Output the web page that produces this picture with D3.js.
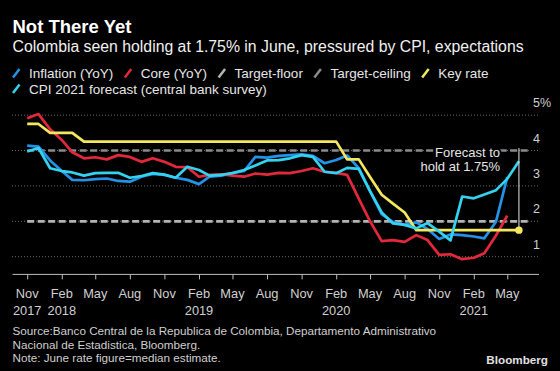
<!DOCTYPE html>
<html><head><meta charset="utf-8">
<script src="https://cdn.jsdelivr.net/npm/d3@7"></script>
<style>
html,body{margin:0;padding:0;background:#000;}
svg{display:block;}
text{font-family:"Liberation Sans", Arial, Helvetica, sans-serif;}
</style></head><body>
<svg id="chart" width="560" height="371"></svg>
<script>
// ---------------- DATA ----------------
const months = ["2017-11","2017-12","2018-01","2018-02","2018-03","2018-04","2018-05","2018-06","2018-07","2018-08","2018-09","2018-10","2018-11","2018-12","2019-01","2019-02","2019-03","2019-04","2019-05","2019-06","2019-07","2019-08","2019-09","2019-10","2019-11","2019-12","2020-01","2020-02","2020-03","2020-04","2020-05","2020-06","2020-07","2020-08","2020-09","2020-10","2020-11","2020-12","2021-01","2021-02","2021-03","2021-04","2021-05","2021-06"];
const inflation = [4.14,4.11,3.72,3.42,3.17,3.16,3.19,3.21,3.14,3.12,3.26,3.34,3.31,3.23,3.17,3.05,3.26,3.29,3.36,3.42,3.82,3.80,3.85,3.87,3.89,3.85,3.64,3.73,3.86,3.50,2.85,2.20,1.98,1.90,1.97,1.78,1.50,1.63,1.61,1.57,1.52,1.99,3.25,null];
const core = [4.91,5.03,4.60,4.30,3.95,3.78,3.81,3.75,3.87,3.82,3.68,3.78,3.68,3.54,3.53,3.26,3.31,3.33,3.29,3.26,3.35,3.32,3.37,3.36,3.42,3.50,3.40,3.37,3.31,2.64,2.00,1.44,1.47,1.42,1.61,1.47,1.05,1.07,0.93,0.97,1.10,1.60,2.16,null];
const keyRate = [4.75,4.75,4.5,4.5,4.5,4.25,4.25,4.25,4.25,4.25,4.25,4.25,4.25,4.25,4.25,4.25,4.25,4.25,4.25,4.25,4.25,4.25,4.25,4.25,4.25,4.25,4.25,4.25,3.75,3.75,3.25,2.75,2.5,2.25,1.75,1.75,1.75,1.75,1.75,1.75,1.75,1.75,1.75,1.75];
const cpiForecast = [3.97,4.07,3.50,3.42,3.38,3.29,3.36,3.37,3.37,3.23,3.28,3.36,3.32,3.23,3.54,3.45,3.29,3.31,3.36,3.45,3.58,3.72,3.73,3.78,3.87,3.82,3.40,3.36,3.51,3.48,2.85,2.25,1.94,1.90,1.80,1.95,1.71,1.46,2.70,2.65,2.76,2.88,3.20,3.70];
const targetMonths = ["2017-11","2021-07"];
const targetFloor = [2,2];
const targetCeiling = [4,4];
const yTicks = [1,2,3,4,5];
const yTickLabels = ["1","2","3","4","5%"];
const xTickMonths = ["2017-11","2018-02","2018-05","2018-08","2018-11","2019-02","2019-05","2019-08","2019-11","2020-02","2020-05","2020-08","2020-11","2021-02","2021-05"];
const xTickLabels = ["Nov","Feb","May","Aug","Nov","Feb","May","Aug","Nov","Feb","May","Aug","Nov","Feb","May"];
const xTickYears = ["2017","2018","","","","2019","","","","2020","","","","2021",""];
const legendLabels = ["Inflation (YoY)","Core (YoY)","Target-floor","Target-ceiling","Key rate","CPI 2021 forecast (central bank survey)"];
const annotationMonth = "2021-06";
const annotationTop = 4.07;
const annotationValue = 1.75;
const annotationText = ["Forecast to","hold at 1.75%"];

// ---------------- STYLE ----------------
const C = {blue:"#2492e6", red:"#e3283c", floor:"#b4b4b4", ceil:"#8a8a8a", yellow:"#f3e760", cyan:"#33d3ef"};
const legendColors = [C.blue, C.red, C.floor, C.ceil, C.yellow, C.cyan];
const LW = 2.7;

const parse = d3.utcParse("%Y-%m");
const svg = d3.select("#chart");
svg.append("rect").attr("width",560).attr("height",371).attr("fill","#000");

const x = d3.scaleUtc().domain([parse("2017-11"), parse("2021-07")]).range([27.2, 530.2]);
const y = d3.scaleLinear().domain([0.5, 5.3]).range([274.4, 104.5]);

// Titles
svg.append("text").attr("x",12.5).attr("y",33).attr("fill","#fff")
  .attr("font-size","18.5px").attr("font-weight","bold").text("Not There Yet");
svg.append("text").attr("x",12.5).attr("y",52).attr("fill","#f0f0f0")
  .attr("font-size","15.8px").text("Colombia seen holding at 1.75% in June, pressured by CPI, expectations");

// Legend
const lg = svg.append("g").attr("font-size","13.5px").attr("fill","#e6e6e6");
let lx = 13, ly = 78;
legendLabels.forEach((lab,i)=>{
  if (i===5){ lx = 13; ly = 93.5; }
  const g = lg.append("g");
  g.append("line").attr("x1",lx).attr("y1",ly-0.5).attr("x2",lx+6.5).attr("y2",ly-9)
    .attr("stroke",legendColors[i]).attr("stroke-width",2.5);
  const t = g.append("text").attr("x",lx+16).attr("y",ly).attr("fill","#e6e6e6").text(lab);
  lx = lx + 16 + t.node().getComputedTextLength() + 11.5;
});

// Gridlines
const grid = svg.append("g");
yTicks.forEach(v=>{
  grid.append("line").attr("x1",12).attr("x2",538).attr("y1",y(v)).attr("y2",y(v))
    .attr("stroke","#6a6a6a").attr("stroke-width",1).attr("stroke-dasharray","1,2");
});
// Y labels
const yl = svg.append("g").attr("font-size","12.5px").attr("fill","#d0d0d0");
yTicks.forEach((v,i)=>{
  yl.append("text").attr("x",533).attr("y",y(v)-8).text(yTickLabels[i]);
});

// X axis
const xAxis = d3.axisBottom(x).tickValues(xTickMonths.map(parse)).tickSize(5).tickFormat("");
const ax = svg.append("g").attr("transform",`translate(0,${y(0.5)})`).call(xAxis);
ax.select(".domain").remove();
ax.selectAll(".tick line").attr("stroke","#bdbdbd");
ax.append("line").attr("x1",12.5).attr("x2",539).attr("y1",0).attr("y2",0).attr("stroke","#bdbdbd");
const xl = svg.append("g").attr("font-size","12.8px").attr("fill","#d0d0d0").attr("text-anchor","middle");
xTickMonths.forEach((m,i)=>{
  xl.append("text").attr("x",x(parse(m))).attr("y",298).text(xTickLabels[i]);
  if (xTickYears[i]) xl.append("text").attr("x",x(parse(m))).attr("y",315).text(xTickYears[i]);
});

// Series
function pts(ms, vals){ return ms.map((m,i)=>({d:parse(m), v:vals[i]})).filter(p=>p.v!=null); }
const line = d3.line().x(p=>x(p.d)).y(p=>y(p.v));
const plot = svg.append("g").attr("fill","none");
plot.append("path").attr("d",line(pts(targetMonths,targetFloor))).attr("stroke",C.floor)
  .attr("stroke-width",LW).attr("stroke-dasharray","7,3.5");
plot.append("path").attr("d",line(pts(targetMonths,targetCeiling))).attr("stroke",C.ceil)
  .attr("stroke-width",LW).attr("stroke-dasharray","7,3.5");

// annotation vertical line (behind series)
const ax0 = x(parse(annotationMonth));
svg.append("line").attr("x1",ax0).attr("x2",ax0).attr("y1",y(annotationTop)).attr("y2",y(annotationValue))
  .attr("stroke","#e8e8e8").attr("stroke-width",1);

[[inflation,C.blue],[core,C.red],[keyRate,C.yellow],[cpiForecast,C.cyan]].forEach(([vals,col])=>{
  plot.append("path").attr("d",line(pts(months,vals))).attr("stroke",col)
    .attr("stroke-width",LW).attr("stroke-linejoin","round");
});
svg.append("circle").attr("cx",ax0).attr("cy",y(annotationValue)).attr("r",3.7).attr("fill",C.yellow);

// annotation text
const at = svg.append("g").attr("font-size","13px").attr("text-anchor","end");
annotationText.forEach((s,i)=>{
  at.append("text").attr("x",500).attr("y",157+i*13.5).attr("fill","#e6e6e6")
    .attr("stroke","#000").attr("stroke-width",4).attr("paint-order","stroke").text(s);
});

// Footer
const ft = svg.append("g").attr("font-size","11.7px").attr("fill","#cfcfcf");
["Source:Banco Central de la Republica de Colombia, Departamento Administrativo",
 "Nacional de Estadistica, Bloomberg.",
 "Note: June rate figure=median estimate."].forEach((s,i)=>{
  ft.append("text").attr("x",12.5).attr("y",335+i*13.7).text(s);
});
svg.append("text").attr("x",548).attr("y",364).attr("text-anchor","end").attr("fill","#e0e0e0")
  .attr("font-size","11.7px").attr("font-weight","bold").text("Bloomberg");
</script>
</body></html>
